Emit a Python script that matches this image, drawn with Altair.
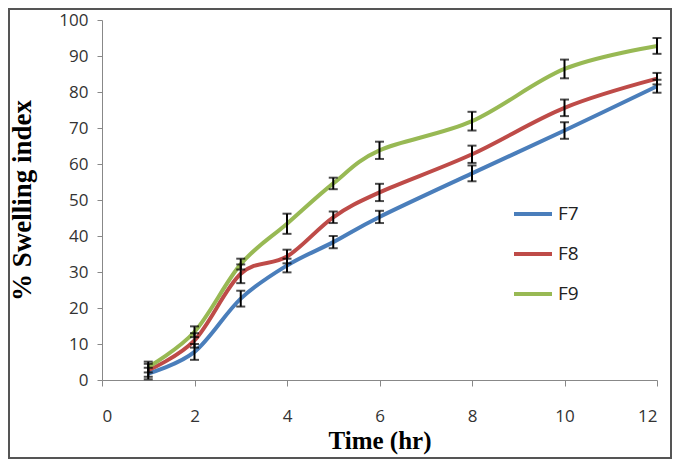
import altair as alt
import pandas as pd

time = [1, 2, 3, 4, 5, 6, 8, 10, 12]
f7 = [1.8, 7.8, 22.6, 31.8, 38.3, 45.3, 57.4, 69.3, 81.6]
f8 = [2.7, 11.0, 29.5, 34.3, 45.2, 52.1, 62.7, 75.6, 83.7]
f9 = [3.6, 13.4, 32.2, 43.4, 54.6, 63.8, 71.9, 86.4, 92.8]
f7_err = [1.6, 2.2, 2.2, 1.9, 1.7, 1.7, 2.2, 2.3, 1.8]
f8_err = [1.8, 2.0, 2.6, 1.9, 1.6, 2.4, 2.4, 2.3, 1.6]
f9_err = [1.5, 1.5, 1.5, 2.8, 1.6, 2.4, 2.6, 2.6, 2.2]
series = ["F7", "F8", "F9"]
colors = ["#4A7EBB", "#BE4B48", "#98B954"]
x_ticks = [0, 2, 4, 6, 8, 10, 12]
y_ticks = [0, 10, 20, 30, 40, 50, 60, 70, 80, 90, 100]

rows = []
for name, vals, errs in zip(series, [f7, f8, f9], [f7_err, f8_err, f9_err]):
    for t, v, e in zip(time, vals, errs):
        rows.append({"t": t, "v": v, "lo": v - e, "hi": v + e, "s": name})
df = pd.DataFrame(rows)

W, H = 555, 360
PL, PT, PR, PB = 94, 12, 15, 79

x_axis = alt.Axis(values=x_ticks, title="Time (hr)",
                  titleFont="Liberation Serif", titleFontSize=25, titleFontWeight="bold",
                  titleColor="#000", titleY=60, titleBaseline="middle",
                  labelFont="Open Sans", labelFontSize=17, labelColor="#333",
                  labelPadding=22, tickSize=6, tickColor="#888", domainColor="#888",
                  labelOverlap=False, grid=False)
y_axis = alt.Axis(values=y_ticks, title="% Swelling index",
                  titleFont="Liberation Serif", titleFontSize=27, titleFontWeight="bold",
                  titleColor="#000", titleX=-80, titleY=180, titleAngle=270,
                  titleBaseline="middle", titleAlign="center",
                  labelFont="Open Sans", labelFontSize=17, labelColor="#333",
                  labelPadding=9, tickSize=5, tickColor="#888", domainColor="#888",
                  labelOverlap=False, grid=False)
xs = alt.Scale(domain=[0, 12], nice=False)
ys = alt.Scale(domain=[0, 100], nice=False)

def X():
    return alt.X("t:Q", scale=xs, axis=x_axis)

def Y(field):
    return alt.Y(field, scale=ys, axis=y_axis)

color = alt.Color("s:N", scale=alt.Scale(domain=series, range=colors),
                  legend=alt.Legend(title=None, orient="none", legendX=410, legendY=173,
                                    symbolType="stroke", symbolSize=1444, symbolStrokeWidth=4,
                                    labelFont="Open Sans", labelFontSize=19, labelColor="#222",
                                    rowPadding=9, labelOffset=4))

lines = alt.Chart(df).mark_line(interpolate="cardinal", strokeWidth=4).encode(
    x=X(), y=Y("v:Q"), color=color)

bars = alt.Chart(df).mark_rule(color="#000", strokeWidth=2).encode(
    x=X(), y=Y("lo:Q"), y2="hi:Q")
cap_lo = alt.Chart(df).mark_tick(color="#000", orient="horizontal", size=9, thickness=2).encode(
    x=X(), y=Y("lo:Q"))
cap_hi = alt.Chart(df).mark_tick(color="#000", orient="horizontal", size=9, thickness=2).encode(
    x=X(), y=Y("hi:Q"))

frame = alt.Chart(pd.DataFrame({"a": [0]})).mark_rect(
    fill=None, stroke="#555", strokeWidth=2).encode(
    x=alt.value(-PL + 1), x2=alt.value(W + PR - 1),
    y=alt.value(-PT + 1), y2=alt.value(H + PB - 1))

chart = alt.layer(lines, bars, cap_lo, cap_hi, frame).properties(
    width=W, height=H,
    autosize=alt.AutoSizeParams(type="none"),
    padding={"left": PL, "top": PT, "right": PR, "bottom": PB},
    background="#ffffff",
).configure_view(stroke=None)

chart.save("out.html", embed_options={"renderer": "svg", "actions": False})
